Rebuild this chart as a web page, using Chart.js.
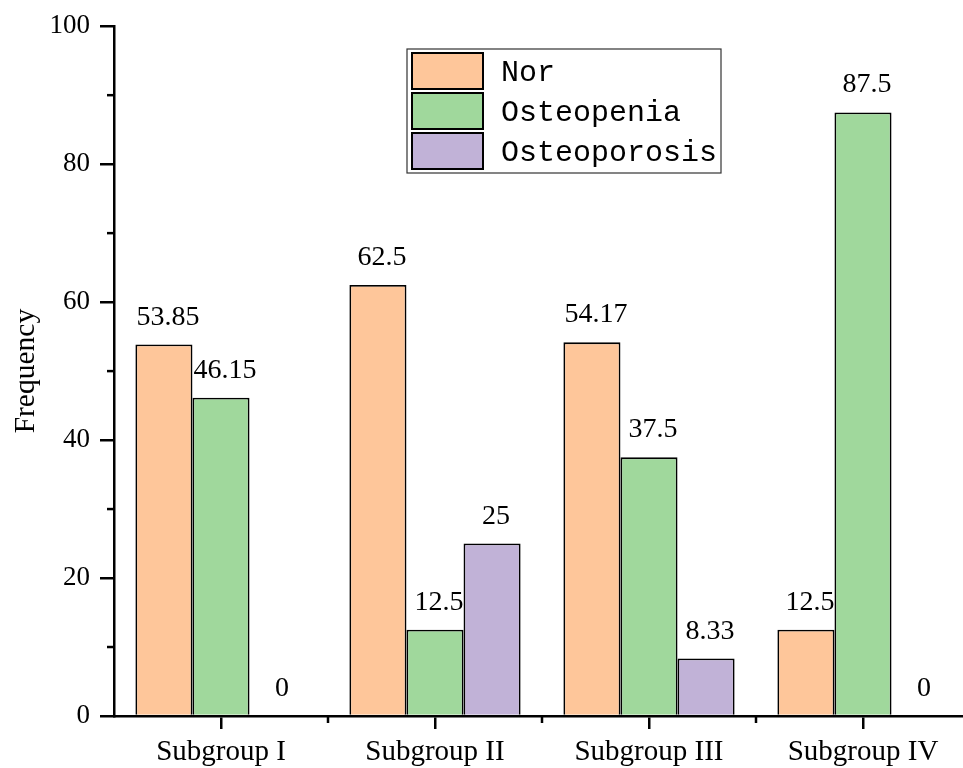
<!DOCTYPE html>
<html>
<head>
<meta charset="utf-8">
<script src="https://cdn.jsdelivr.net/npm/chart.js@4.4.0/dist/chart.umd.min.js"></script>
<style>
html,body{margin:0;padding:0;background:#fff;overflow:hidden;}
#wrap{width:972px;height:768px;position:relative;}
</style>
</head>
<body>
<div id="wrap"><canvas id="c"></canvas></div>
<script>
const categories = ['Subgroup I', 'Subgroup II', 'Subgroup III', 'Subgroup IV'];
const seriesNames = ['Nor', 'Osteopenia', 'Osteoporosis'];
const norValues = [53.85, 62.5, 54.17, 12.5];
const osteopeniaValues = [46.15, 12.5, 37.5, 87.5];
const osteoporosisValues = [0, 25, 8.33, 0];
const yTicks = [0, 20, 40, 60, 80, 100];
const yMinorTicks = [10, 30, 50, 70, 90];
const colors = ['#FEC69A', '#A0D89C', '#C1B2D7'];

const serif = "'Liberation Serif', 'Times New Roman', serif";

const extrasPlugin = {
  id: 'extras',
  afterDatasetsDraw(chart) {
    const ctx = chart.ctx;
    ctx.save();
    ctx.fillStyle = '#000';
    ctx.font = '28px ' + serif;
    ctx.textAlign = 'center';
    ctx.textBaseline = 'alphabetic';
    chart.data.datasets.forEach((ds, di) => {
      const meta = chart.getDatasetMeta(di);
      meta.data.forEach((bar, i) => {
        ctx.fillText(String(ds.data[i]), bar.x + 4, bar.y - 20);
      });
    });
    ctx.restore();
  },
  afterDraw(chart) {
    const ctx = chart.ctx;
    const x = chart.scales.x, y = chart.scales.y;
    const ca = chart.chartArea;
    ctx.save();
    ctx.strokeStyle = '#000';
    ctx.lineWidth = 2.5;
    yMinorTicks.forEach(v => {
      const py = y.getPixelForValue(v);
      ctx.beginPath();
      ctx.moveTo(ca.left - 7, py);
      ctx.lineTo(ca.left, py);
      ctx.stroke();
    });
    for (let i = 0; i < categories.length - 1; i++) {
      const px = x.getPixelForValue(i + 0.5);
      ctx.beginPath();
      ctx.moveTo(px, ca.bottom);
      ctx.lineTo(px, ca.bottom + 7);
      ctx.stroke();
    }
    // legend
    const lx = 407, ly = 49, lw = 314, lh = 124;
    ctx.lineWidth = 1.2;
    ctx.strokeStyle = '#333';
    ctx.fillStyle = '#fff';
    ctx.fillRect(lx, ly, lw, lh);
    ctx.strokeRect(lx, ly, lw, lh);
    ctx.font = "30px 'Liberation Mono', 'Courier New', monospace";
    ctx.textAlign = 'left';
    ctx.textBaseline = 'middle';
    chart.data.datasets.forEach((ds, i) => {
      const sy = ly + 4 + i * 40;
      ctx.fillStyle = ds.backgroundColor;
      ctx.fillRect(lx + 5, sy, 71, 36);
      ctx.lineWidth = 2;
      ctx.strokeStyle = '#000';
      ctx.strokeRect(lx + 5, sy, 71, 36);
      ctx.fillStyle = '#000';
      ctx.fillText(ds.label, lx + 94, sy + 20);
    });
    ctx.restore();
  }
};

const datasets = [norValues, osteopeniaValues, osteoporosisValues].map((vals, i) => ({
  label: seriesNames[i],
  data: vals,
  backgroundColor: colors[i],
  borderColor: '#000',
  borderWidth: 1.8,
  categoryPercentage: 0.8,
  barPercentage: 1.0
}));

new Chart(document.getElementById('c'), {
  type: 'bar',
  data: { labels: categories, datasets },
  plugins: [extrasPlugin],
  options: {
    responsive: true,
    maintainAspectRatio: false,
    animation: false,
    devicePixelRatio: 1,
    layout: { padding: { top: 25, right: 2, left: 0, bottom: 0 } },
    plugins: { legend: { display: false }, tooltip: { enabled: false } },
    scales: {
      x: {
        grid: { display: true, drawOnChartArea: false, offset: false, tickLength: 13, lineWidth: 2.5, color: '#000' },
        border: { display: true, color: '#000', width: 2.5 },
        ticks: { color: '#000', font: { family: serif, size: 29 }, padding: 6, maxRotation: 0 },
        afterFit: s => { s.height = 52; }
      },
      y: {
        min: 0, max: 100,
        afterBuildTicks: s => { s.ticks = yTicks.map(v => ({ value: v })); },
        grid: { display: true, drawOnChartArea: false, tickLength: 14, lineWidth: 2.5, color: '#000' },
        border: { display: true, color: '#000', width: 2.5 },
        ticks: { color: '#000', font: { family: serif, size: 27 }, padding: 10 },
        title: { display: true, text: 'Frequency', color: '#000', font: { family: serif, size: 29.5 }, padding: { top: 9, bottom: 0 } },
        afterFit: s => { s.width = 114; }
      }
    }
  }
});
</script>
</body>
</html>
